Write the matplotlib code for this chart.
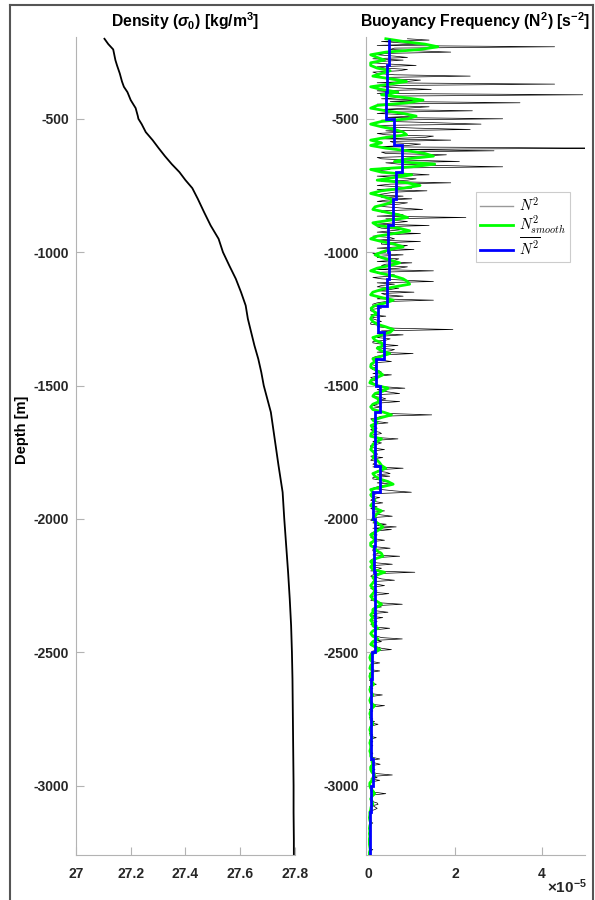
import numpy as np
import matplotlib
matplotlib.use('Agg')
import matplotlib.pyplot as plt
from matplotlib.font_manager import FontProperties
from matplotlib.lines import Line2D

plt.rcParams['font.family'] = ['Liberation Sans', 'DejaVu Sans']
plt.rcParams['font.weight'] = 'bold'
plt.rcParams['axes.unicode_minus'] = False
plt.rcParams['mathtext.fontset'] = 'custom'
plt.rcParams['mathtext.rm'] = 'Liberation Sans'
plt.rcParams['mathtext.it'] = 'Liberation Sans:italic'
plt.rcParams['mathtext.bf'] = 'Liberation Sans:bold'

# density profile, sigma0 [kg/m3]
rho_depth = [-200, -220, -240, -260, -280, -300, -330, -360, -380, -400,
             -430, -460, -490, -500, -520, -550, -580, -610, -640, -670,
             -700, -730, -760, -800, -850, -900, -950, -1000, -1050, -1100,
             -1150, -1200, -1250, -1300, -1350, -1400, -1450, -1500, -1600,
             -1700, -1800, -1900, -2000, -2100, -2200, -2300, -2400, -2500,
             -2600, -2700, -2800, -2900, -3000, -3100, -3200, -3260]
rho_sigma0 = [27.104, 27.118, 27.136, 27.140, 27.144, 27.150, 27.160, 27.168,
              27.175, 27.188, 27.200, 27.218, 27.226, 27.228, 27.240, 27.255,
              27.280, 27.302, 27.325, 27.350, 27.378, 27.400, 27.425, 27.445,
              27.468, 27.492, 27.521, 27.537, 27.560, 27.584, 27.603, 27.620,
              27.628, 27.640, 27.652, 27.666, 27.677, 27.686, 27.712, 27.726,
              27.740, 27.755, 27.761, 27.768, 27.775, 27.781, 27.786, 27.789,
              27.791, 27.792, 27.793, 27.794, 27.795, 27.795, 27.796, 27.796]

# raw N^2 in units of 1e-5 s^-2, one value every 5 m starting at -200 m
raw_top = -200
raw_dz = 5
n2_raw = [
    0.9, 1.4, 0.3, 0.7, 1.2, 0.2, 4.3, 0.6, 0.5, 1.1, 1.9, 0.4, 0.2, 0.6, 0.9, 0.1, 0.8, 0.3, 0.1, 0.5,
    1.1, 0.2, 0.4, 0.9, 0.7, 0.1, 0.2, 0.6, 2.35, 0.3, 0.5, 1.2, 0.9, 0.2, 4.3, 0.7, 0.3, 0.8, 1.45, 0.2,
    0.6, 0.2, 4.95, 0.4, 0.8, 0.3, 1.2, 0.5, 3.5, 0.2, 0.3, 1.4, 0.9, 0.3, 2.4, 0.6, 0.2, 0.9, 1.0, 0.4,
    3.1, 0.3, 0.5, 1.6, 2.6, 0.2, 0.3, 1.1, 2.35, 0.4, 0.8, 0.2, 0.4, 1.5, 1.3, 0.3, 1.9, 0.5, 0.6, 1.2,
    0.9, 0.2, 5.3, 0.6, 2.9, 0.3, 0.4, 1.8, 1.2, 0.2, 0.3, 0.9, 2.1, 0.4, 0.7, 1.6, 3.1, 0.3, 0.5, 0.2,
    0.3, 0.9, 1.4, 0.2, 0.6, 1.1, 0.9, 0.3, 1.9, 0.5, 0.2, 0.7, 1.0, 0.2, 1.35, 0.6, 0.4, 0.2, 0.8, 0.3,
    1.0, 0.4, 0.2, 0.9, 0.7, 0.2, 0.4, 0.8, 1.25, 0.3, 0.3, 0.6, 0.8, 0.2, 2.25, 0.4, 0.5, 0.9, 0.6, 0.2,
    1.4, 0.2, 0.3, 0.8, 0.5, 0.2, 1.2, 0.4, 0.1, 0.5, 0.6, 0.2, 1.2, 0.3, 0.3, 0.9, 0.7, 0.2, 1.05, 0.4,
    0.4, 0.1, 0.8, 0.3, 0.2, 0.7, 0.6, 0.2, 1.0, 0.4, 0.3, 0.9, 0.7, 0.2, 1.5, 0.3, 0.2, 0.6, 0.5, 0.1,
    0.3, 0.8, 1.5, 0.2, 0.6, 0.3, 0.2, 0.7, 0.5, 0.2, 1.05, 0.3, 0.4, 0.8, 0.3, 0.2, 1.5, 0.4, 0.2, 0.1,
    0.1, 0.2, 0.3, 0.05, 0.05, 0.15, 0.2, 0.05, 0.4, 0.1, 0.1, 0.2, 0.3, 0.05, 0.05, 0.3, 0.2, 0.6, 1.95, 0.3,
    0.5, 0.2, 0.8, 0.3, 0.2, 0.5, 0.4, 0.1, 0.1, 0.3, 0.68, 0.2, 0.3, 0.6, 0.5, 0.2, 1.03, 0.4, 0.2, 0.1,
    0.1, 0.3, 0.53, 0.1, 0.05, 0.15, 0.2, 0.05, 0.1, 0.25, 0.3, 0.1, 0.53, 0.2, 0.05, 0.1, 0.15, 0.05, 0.1, 0.2,
    0.2, 0.4, 0.84, 0.2, 0.3, 0.5, 0.72, 0.1, 0.1, 0.3, 0.4, 0.2, 0.72, 0.3, 0.2, 0.1, 0.3, 0.1, 0.1, 0.2,
    0.3, 0.5, 1.46, 0.3, 0.2, 0.05, 0.1, 0.2, 0.45, 0.1, 0.05, 0.15, 0.2, 0.05, 0.1, 0.25, 0.3, 0.1, 0.05, 0.2,
    0.68, 0.2, 0.1, 0.3, 0.2, 0.05, 0.05, 0.15, 0.37, 0.1, 0.1, 0.2, 0.2, 0.05, 0.33, 0.1, 0.05, 0.2, 0.15, 0.1,
    0.3, 0.1, 0.8, 0.3, 0.2, 0.4, 0.5, 0.2, 0.49, 0.1, 0.1, 0.3, 0.4, 0.2, 0.57, 0.3, 0.2, 0.1, 0.3, 0.6,
    0.99, 0.2, 0.1, 0.05, 0.26, 0.1, 0.05, 0.15, 0.33, 0.05, 0.1, 0.2, 0.05, 0.1, 0.37, 0.1, 0.1, 0.3, 0.55, 0.1,
    0.1, 0.05, 0.2, 0.1, 0.41, 0.2, 0.64, 0.1, 0.53, 0.2, 0.1, 0.05, 0.2, 0.1, 0.05, 0.15, 0.37, 0.1, 0.1, 0.05,
    0.05, 0.2, 0.5, 0.1, 0.1, 0.3, 0.2, 0.1, 0.72, 0.2, 0.1, 0.05, 0.05, 0.2, 0.55, 0.1, 0.1, 0.3, 0.2, 0.05,
    1.07, 0.2, 0.1, 0.05, 0.2, 0.3, 0.6, 0.1, 0.1, 0.2, 0.37, 0.1, 0.05, 0.1, 0.2, 0.1, 0.47, 0.2, 0.1, 0.05,
    0.1, 0.05, 0.2, 0.3, 0.78, 0.2, 0.3, 0.1, 0.1, 0.2, 0.45, 0.1, 0.2, 0.05, 0.33, 0.1, 0.05, 0.2, 0.1, 0.05,
    0.2, 0.1, 0.49, 0.2, 0.1, 0.05, 0.05, 0.1, 0.2, 0.3, 0.78, 0.2, 0.3, 0.1, 0.1, 0.05, 0.2, 0.3, 0.53, 0.1,
    0.1, 0.05, 0.05, 0.1, 0.1, 0.02, 0.05, 0.1, 0.26, 0.05, 0.05, 0.02, 0.1, 0.05, 0.26, 0.05, 0.02, 0.1, 0.05, 0.02,
    0.05, 0.02, 0.1, 0.05, 0.18, 0.05, 0.02, 0.1, 0.05, 0.02, 0.1, 0.05, 0.32, 0.1, 0.05, 0.02, 0.02, 0.08, 0.1, 0.05,
    0.37, 0.1, 0.05, 0.02, 0.1, 0.05, 0.02, 0.05, 0.05, 0.02, 0.1, 0.05, 0.14, 0.05, 0.22, 0.1, 0.05, 0.02, 0.02, 0.05,
    0.05, 0.02, 0.1, 0.05, 0.18, 0.05, 0.02, 0.1, 0.05, 0.02, 0.1, 0.05, 0.05, 0.02, 0.02, 0.08, 0.1, 0.05, 0.05, 0.12,
    0.26, 0.05, 0.1, 0.15, 0.27, 0.05, 0.05, 0.1, 0.15, 0.05, 0.1, 0.2, 0.55, 0.1, 0.2, 0.05, 0.26, 0.1, 0.05, 0.02,
    0.05, 0.02, 0.1, 0.05, 0.05, 0.15, 0.4, 0.1, 0.1, 0.05, 0.05, 0.1, 0.1, 0.2, 0.22, 0.1, 0.15, 0.2, 0.14, 0.05,
    0.03, 0.02, 0.05, 0.02, 0.02, 0.04, 0.04, 0.02, 0.1, 0.03, 0.02, 0.05, 0.03, 0.02, 0.05, 0.02, 0.02, 0.04, 0.03, 0.02,
    0.02, 0.04, 0.03, 0.02, 0.02, 0.03, 0.04, 0.02, 0.1, 0.03, 0.02, 0.04, 0.03,
]

# smoothed N^2 (1e-5 s^-2), one value every 10 m starting at -200 m
smooth_top = -200
smooth_dz = 10
n2_smooth = [
    0.4, 0.8, 1.3, 1.6, 1.2, 0.4, 0.05, 0.2, 0.37, 0.05,
    0.05, 0.2, 0.5, 0.3, 0.1, 0.5, 0.88, 0.5, 0.05, 0.3,
    0.68, 0.3, 0.8, 1.26, 0.9, 0.2, 0.05, 0.4, 0.8, 1.1,
    0.9, 0.3, 0.05, 0.3, 0.6, 0.8, 0.88, 0.4, 0.05, 0.3,
    0.05, 0.4, 0.9, 1.3, 1.5, 0.9, 0.6, 1.53, 1.0, 0.05,
    0.3, 1.0, 0.6, 0.2, 0.9, 1.19, 0.8, 0.3, 0.05, 0.3,
    0.5, 0.57, 0.4, 0.15, 0.1, 0.4, 0.7, 0.9, 0.5, 0.1,
    0.2, 0.7, 0.95, 0.6, 0.2, 0.05, 0.3, 0.6, 0.8, 0.5,
    0.3, 0.15, 0.3, 0.5, 0.72, 0.5, 0.2, 0.05, 0.3, 0.6,
    0.8, 0.9, 0.95, 0.6, 0.3, 0.1, 0.05, 0.3, 0.57, 0.4,
    0.15, 0.06, 0.1, 0.2, 0.08, 0.05, 0.1, 0.2, 0.4, 0.57,
    0.5, 0.3, 0.1, 0.15, 0.3, 0.35, 0.2, 0.3, 0.49, 0.3,
    0.1, 0.15, 0.06, 0.05, 0.15, 0.25, 0.33, 0.2, 0.06, 0.03,
    0.2, 0.45, 0.35, 0.15, 0.1, 0.22, 0.25, 0.1, 0.05, 0.1,
    0.35, 0.53, 0.3, 0.1, 0.2, 0.06, 0.1, 0.15, 0.06, 0.05,
    0.3, 0.2, 0.1, 0.08, 0.05, 0.12, 0.15, 0.1, 0.2, 0.26,
    0.3, 0.4, 0.25, 0.1, 0.15, 0.25, 0.45, 0.57, 0.3, 0.05,
    0.1, 0.05, 0.1, 0.15, 0.1, 0.05, 0.15, 0.3, 0.2, 0.15,
    0.1, 0.15, 0.25, 0.33, 0.25, 0.15, 0.05, 0.1, 0.15, 0.05,
    0.05, 0.15, 0.2, 0.3, 0.33, 0.15, 0.05, 0.1, 0.05, 0.1,
    0.37, 0.2, 0.1, 0.15, 0.1, 0.05, 0.1, 0.15, 0.1, 0.05,
    0.1, 0.2, 0.3, 0.2, 0.1, 0.1, 0.05, 0.1, 0.05, 0.1,
    0.1, 0.22, 0.1, 0.05, 0.1, 0.22, 0.1, 0.05, 0.15, 0.26,
    0.15, 0.05, 0.03, 0.05, 0.1, 0.05, 0.03, 0.1, 0.05, 0.03,
    0.05, 0.08, 0.12, 0.05, 0.03, 0.05, 0.1, 0.05, 0.03, 0.05,
    0.14, 0.08, 0.05, 0.03, 0.05, 0.05, 0.08, 0.1, 0.05, 0.03,
    0.05, 0.05, 0.08, 0.05, 0.03, 0.05, 0.05, 0.03, 0.05, 0.05,
    0.1, 0.08, 0.1, 0.05, 0.05, 0.08, 0.14, 0.1, 0.08, 0.03,
    0.03, 0.05, 0.1, 0.14, 0.08, 0.05, 0.08, 0.1, 0.06, 0.05,
    0.03, 0.03, 0.02, 0.03, 0.05, 0.03, 0.02, 0.03, 0.02, 0.03,
    0.02, 0.02, 0.02, 0.03, 0.04, 0.02, 0.02,
]

# 100 m bin means of N^2 (1e-5 s^-2)
bin_edges = [-200, -300, -400, -500, -600, -700, -800, -900, -1000, -1100,
             -1200, -1300, -1400, -1500, -1600, -1700, -1800, -1900, -2000,
             -2100, -2200, -2300, -2400, -2500, -2600, -2700, -2800, -2900,
             -3000, -3100, -3200, -3260]
n2_bin_mean = [0.47, 0.42, 0.41, 0.60, 0.78, 0.64, 0.57, 0.45, 0.47, 0.43,
               0.23, 0.35, 0.18, 0.27, 0.16, 0.16, 0.26, 0.10, 0.155, 0.12,
               0.155, 0.14, 0.14, 0.07, 0.06, 0.05, 0.06, 0.10, 0.06, 0.04,
               0.03]

depth_ticks = [-500, -1000, -1500, -2000, -2500, -3000]
rho_ticks = [27, 27.2, 27.4, 27.6, 27.8]
rho_ticklabels = ['27', '27.2', '27.4', '27.6', '27.8']
n2_ticks = [0, 2e-5, 4e-5]

scale = 1e-5
z_raw = raw_top - raw_dz * np.arange(len(n2_raw))
z_smooth = smooth_top - smooth_dz * np.arange(len(n2_smooth))

fig = plt.figure(figsize=(5.95, 9), dpi=100)
ax1 = fig.add_axes([0.1277, 0.05, 0.368, 0.909])
ax2 = fig.add_axes([0.615, 0.05, 0.368, 0.909])

ax1.plot(rho_sigma0, rho_depth, color='k', lw=1.3)
ax1.set_xlim(27, 27.8)
ax1.set_xticks(rho_ticks)
ax1.set_xticklabels(rho_ticklabels)
ax1.set_title(r'Density ($\sigma_{\mathbf{0}}$) [kg/m$^{\mathbf{3}}$]',
              fontsize=11.3, fontweight='bold', pad=7)
ax1.set_ylabel('Depth [m]', fontsize=10.5, fontweight='bold')
ax1.yaxis.set_label_coords(-0.215, 0.52)

ax2.plot(np.array(n2_raw) * scale, z_raw, color='k', lw=0.5, zorder=2)
ax2.plot(np.array(n2_smooth) * scale, z_smooth, color='#00ff00', lw=2, zorder=3)
ax2.stairs(np.array(n2_bin_mean[::-1]) * scale, bin_edges[::-1],
           orientation='horizontal', baseline=None, color='#0000ff', lw=2,
           zorder=4)
ax2.set_xlim(-0.06e-5, 5e-5)
ax2.set_xticks(n2_ticks)
ax2.ticklabel_format(axis='x', style='sci', scilimits=(-5, -5), useMathText=True)
ax2.xaxis.get_offset_text().set_visible(False)
ax2.set_title(r'Buoyancy Frequency (N$^{\mathbf{2}}$) [s$^{\mathbf{-2}}$]',
              fontsize=11.3, fontweight='bold', pad=7)
fig.text(587 / 595, 1 - 887 / 900, r'$\times$10$^{\mathbf{-5}}$',
         ha='right', va='center', fontsize=11, fontweight='bold', color='#262626')

for ax in (ax1, ax2):
    ax.set_ylim(-3260, -193)
    ax.set_yticks(depth_ticks)
    for side in ('top', 'right'):
        ax.spines[side].set_visible(False)
    for side in ('left', 'bottom'):
        ax.spines[side].set_color('#b3b3b3')
        ax.spines[side].set_linewidth(0.8)
    ax.tick_params(direction='in', length=6, width=0.8, color='#b3b3b3',
                   labelcolor='#262626', labelsize=10)
    ax.tick_params(axis='x', pad=9)
    ax.tick_params(axis='y', pad=5)

legend_font = FontProperties(family='DejaVu Serif', size=10.5, math_fontfamily='cm')
handles = [
    Line2D([], [], color='#999999', lw=1),
    Line2D([], [], color='#00ff00', lw=2),
    Line2D([], [], color='#0000ff', lw=2),
]
labels = [r'$N^2$', r'$N^2_{smooth}$', r'$\overline{N^2}$']
leg = ax2.legend(handles, labels, loc='upper right', bbox_to_anchor=(0.93, 0.81),
                 prop=legend_font, fancybox=False, framealpha=1,
                 edgecolor='#cccccc', handlelength=2.3, labelspacing=0.0,
                 borderpad=0.25, handletextpad=0.4, borderaxespad=0)
leg.get_frame().set_linewidth(0.8)

# grey frame around the figure
frame_kw = dict(transform=fig.transFigure, color='#555555', lw=1.5)
fig.add_artist(Line2D([10 / 595, 10 / 595], [0, 1 - 5 / 900], **frame_kw))
fig.add_artist(Line2D([10 / 595, 593 / 595], [1 - 5 / 900, 1 - 5 / 900], **frame_kw))
fig.add_artist(Line2D([593 / 595, 593 / 595], [0, 1 - 5 / 900], **frame_kw))

fig.savefig('out.png', dpi=100, facecolor='white')
